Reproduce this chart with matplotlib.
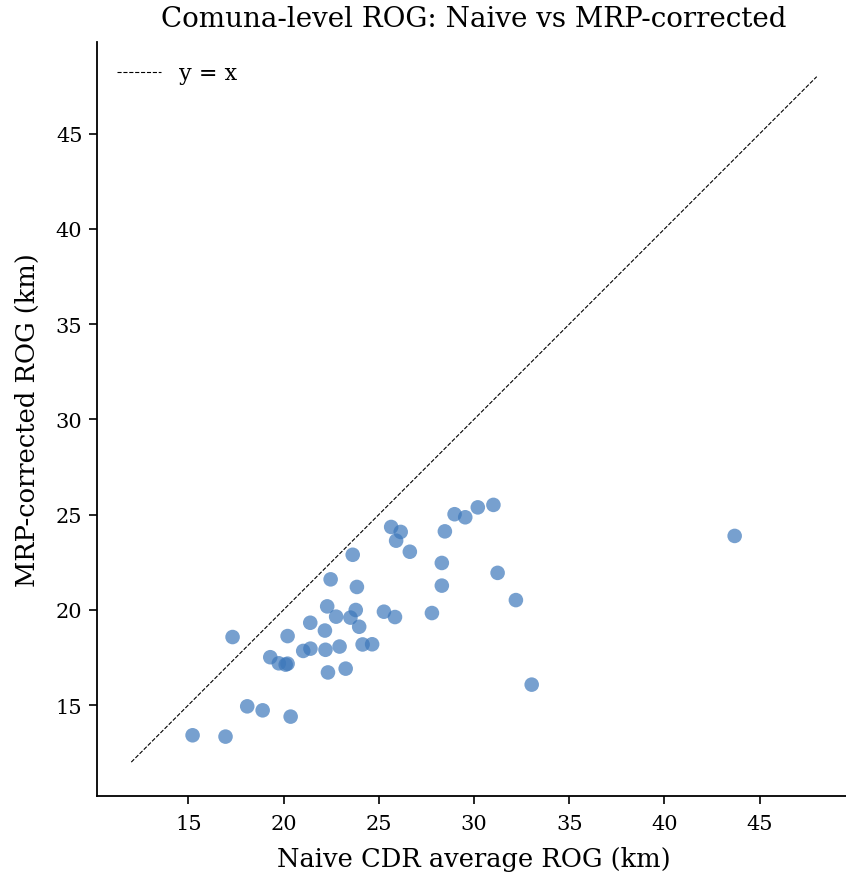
import matplotlib
matplotlib.use("Agg")
import matplotlib.pyplot as plt

# naive CDR average ROG (km) vs MRP-corrected ROG (km), one point per comuna
naive_rog = [15.22, 16.95, 17.32, 18.09, 18.90, 20.37, 19.30, 19.75, 20.11, 20.21,
             20.21, 21.03, 21.40, 21.41, 22.17, 22.20, 22.29, 22.33, 22.47, 22.76,
             22.94, 23.26, 23.63, 23.51, 23.79, 23.85, 23.97, 24.15, 24.65, 25.27,
             25.65, 25.85, 25.91, 26.15, 26.63, 27.79, 28.31, 28.31, 28.47, 28.98,
             29.54, 30.20, 31.02, 31.24, 32.20, 33.03, 43.69]
mrp_rog = [13.41, 13.34, 18.57, 14.93, 14.72, 14.39, 17.51, 17.19, 17.12, 17.17,
           18.62, 17.84, 19.32, 17.96, 18.91, 17.90, 20.18, 16.71, 21.60, 19.64,
           18.07, 16.91, 22.89, 19.59, 19.99, 21.20, 19.11, 18.18, 18.19, 19.90,
           24.35, 19.62, 23.63, 24.09, 23.05, 19.83, 22.46, 21.27, 24.12, 25.02,
           24.86, 25.38, 25.51, 21.94, 20.51, 16.07, 23.88]
ref_line = [12, 48]

plt.rcParams["font.family"] = "DejaVu Serif"

fig = plt.figure(figsize=(8.46, 8.78), dpi=100)
ax = fig.add_axes([97 / 846, 1 - 797.4 / 878, 754 / 846, 754 / 878])

ax.scatter(naive_rog, mrp_rog, s=110, color="#3D78BB", alpha=0.7, edgecolors="none")
ax.plot(ref_line, ref_line, "k--", linewidth=0.8, label="y = x")

ax.set_xlim(10.2, 49.8)
ax.set_ylim(10.2, 49.8)
ax.set_xticks([15, 20, 25, 30, 35, 40, 45])
ax.set_yticks([15, 20, 25, 30, 35, 40, 45])
ax.tick_params(labelsize=15, width=1.2, length=6)
ax.tick_params(axis="x", pad=7)
ax.tick_params(axis="y", pad=4.5)
for side in ["left", "bottom"]:
    ax.spines[side].set_linewidth(1.3)
ax.spines["top"].set_visible(False)
ax.spines["right"].set_visible(False)

ax.set_title("Comuna-level ROG: Naive vs MRP-corrected", fontsize=20, pad=12)
ax.set_xlabel("Naive CDR average ROG (km)", fontsize=18.5, labelpad=9)
ax.set_ylabel("MRP-corrected ROG (km)", fontsize=18.5, labelpad=11)
ax.legend(loc="upper left", frameon=False, fontsize=16)

fig.savefig("out.png")
